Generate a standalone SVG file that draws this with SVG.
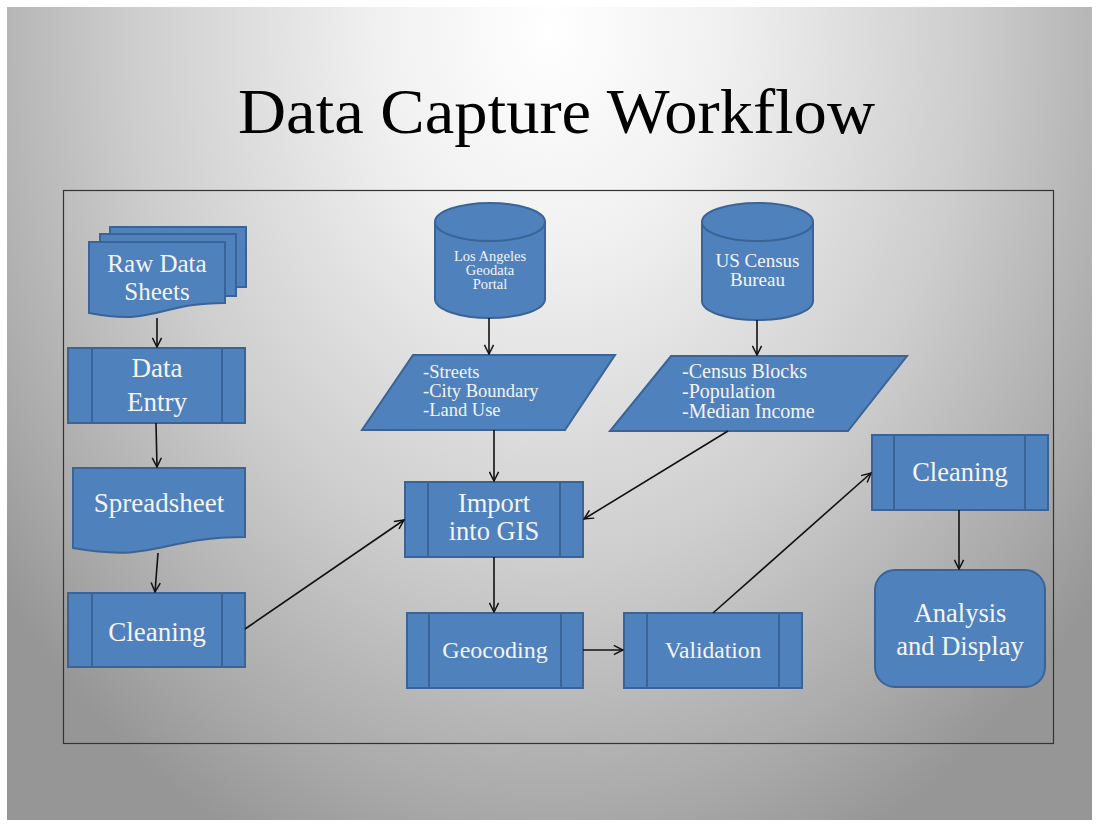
<svg xmlns="http://www.w3.org/2000/svg" width="1099" height="827" viewBox="0 0 1099 827">
  <defs>
    <radialGradient id="bg" gradientUnits="userSpaceOnUse" cx="550" cy="30" r="900" gradientTransform="translate(550 30) scale(0.78 1) translate(-550 -30)">
      <stop offset="0" stop-color="#ffffff"/>
      <stop offset="0.25" stop-color="#f0f0f0"/>
      <stop offset="0.6" stop-color="#cdcdcd"/>
      <stop offset="0.87" stop-color="#a9a9a9"/>
      <stop offset="1" stop-color="#969696"/>
    </radialGradient>
    <marker id="arr" viewBox="0 0 12 12" refX="11" refY="6" markerWidth="11" markerHeight="11" markerUnits="userSpaceOnUse" orient="auto">
      <path d="M1,1 L11,6 L1,11" fill="none" stroke="#111" stroke-width="1.6"/>
    </marker>
  </defs>
  <style>
    .shape { fill: #4F81BD; stroke: #3A6496; stroke-width: 2; }
    .div { stroke: #3A6496; stroke-width: 2; fill: none; }
    .lbl { font-family: "Liberation Serif", "Times New Roman", serif; fill: #F4F4F4; text-anchor: middle; }
    .lst { font-family: "Liberation Serif", "Times New Roman", serif; fill: #F4F4F4; text-anchor: start; }
    .conn line { stroke: #111; stroke-width: 1.6; marker-end: url(#arr); }
  </style>

  <rect x="0" y="0" width="1099" height="827" fill="#ffffff"/>
  <rect x="7" y="7" width="1085" height="813" fill="url(#bg)"/>

  <text x="238" y="133" font-family="'Liberation Serif', 'Times New Roman', serif" font-size="63" fill="#000" textLength="637" lengthAdjust="spacingAndGlyphs">Data Capture Workflow</text>

  <rect id="frame" x="63.5" y="190.5" width="990" height="553" fill="none" stroke="#333" stroke-width="1.2"/>

  <g id="raw-data-sheets">
    <rect class="shape" x="110" y="227" width="136" height="60"/>
    <rect class="shape" x="100" y="234" width="136" height="62"/>
    <path class="shape" d="M89,242 L225,242 L225,303 C157,303 157,326 89,313 Z"/>
    <text class="lbl" font-size="25" x="157" y="272">Raw Data</text>
    <text class="lbl" font-size="25" x="157" y="300">Sheets</text>
  </g>

  <g id="data-entry">
    <rect class="shape" x="68" y="348" width="177" height="75"/>
    <line class="div" x1="92" y1="348" x2="92" y2="423"/>
    <line class="div" x1="222" y1="348" x2="222" y2="423"/>
    <text class="lbl" font-size="27" x="157" y="377">Data</text>
    <text class="lbl" font-size="27" x="157" y="411">Entry</text>
  </g>

  <g id="spreadsheet">
    <path class="shape" d="M73,468 L245,468 L245,537 C159,537 159,563 73,548 Z"/>
    <text class="lbl" font-size="27" x="159" y="512">Spreadsheet</text>
  </g>

  <g id="cleaning-1">
    <rect class="shape" x="68" y="593" width="177" height="74"/>
    <line class="div" x1="92" y1="593" x2="92" y2="667"/>
    <line class="div" x1="222" y1="593" x2="222" y2="667"/>
    <text class="lbl" font-size="27" x="157" y="641">Cleaning</text>
  </g>

  <g id="la-geodata-portal">
    <path class="shape" d="M435,222 A55,19 0 0 1 545,222 L545,299 A55,19 0 0 1 435,299 Z"/>
    <path class="div" d="M435,222 A55,19 0 0 0 545,222"/>
    <text class="lbl" font-size="14.5" x="490" y="261">Los Angeles</text>
    <text class="lbl" font-size="14.5" x="490" y="275">Geodata</text>
    <text class="lbl" font-size="14.5" x="490" y="289">Portal</text>
  </g>

  <g id="us-census-bureau">
    <path class="shape" d="M702,222 A55.5,19 0 0 1 813,222 L813,301 A55.5,19 0 0 1 702,301 Z"/>
    <path class="div" d="M702,222 A55.5,19 0 0 0 813,222"/>
    <text class="lbl" font-size="19" x="757.5" y="267">US Census</text>
    <text class="lbl" font-size="19" x="757.5" y="286">Bureau</text>
  </g>

  <g id="la-layers">
    <path class="shape" d="M413,355 L615,355 L565,430 L362,430 Z"/>
    <text class="lst" font-size="18.5" x="423" y="378">-Streets</text>
    <text class="lst" font-size="18.5" x="423" y="397">-City Boundary</text>
    <text class="lst" font-size="18.5" x="423" y="416">-Land Use</text>
  </g>

  <g id="census-layers">
    <path class="shape" d="M671,356 L907,356 L848,431 L610,431 Z"/>
    <text class="lst" font-size="20" x="682" y="378">-Census Blocks</text>
    <text class="lst" font-size="20" x="682" y="398">-Population</text>
    <text class="lst" font-size="20" x="682" y="418">-Median  Income</text>
  </g>

  <g id="import-into-gis">
    <rect class="shape" x="405" y="482" width="178" height="75"/>
    <line class="div" x1="428" y1="482" x2="428" y2="557"/>
    <line class="div" x1="560" y1="482" x2="560" y2="557"/>
    <text class="lbl" font-size="26.5" x="494" y="512">Import</text>
    <text class="lbl" font-size="26.5" x="494" y="540">into GIS</text>
  </g>

  <g id="geocoding">
    <rect class="shape" x="407" y="613" width="176" height="75"/>
    <line class="div" x1="429" y1="613" x2="429" y2="688"/>
    <line class="div" x1="561" y1="613" x2="561" y2="688"/>
    <text class="lbl" font-size="24" x="495" y="658">Geocoding</text>
  </g>

  <g id="validation">
    <rect class="shape" x="624" y="613" width="178" height="75"/>
    <line class="div" x1="647" y1="613" x2="647" y2="688"/>
    <line class="div" x1="779" y1="613" x2="779" y2="688"/>
    <text class="lbl" font-size="23.5" x="713" y="658">Validation</text>
  </g>

  <g id="cleaning-2">
    <rect class="shape" x="872" y="435" width="176" height="75"/>
    <line class="div" x1="894" y1="435" x2="894" y2="510"/>
    <line class="div" x1="1025" y1="435" x2="1025" y2="510"/>
    <text class="lbl" font-size="26.5" x="960" y="481">Cleaning</text>
  </g>

  <g id="analysis-and-display">
    <rect class="shape" x="875" y="570" width="170" height="117" rx="20" ry="20"/>
    <text class="lbl" font-size="26.5" x="960" y="622">Analysis</text>
    <text class="lbl" font-size="26.5" x="960" y="655">and Display</text>
  </g>

  <g id="connectors" class="conn">
    <line x1="157" y1="318" x2="157" y2="347"/>
    <line x1="156" y1="423" x2="157" y2="467"/>
    <line x1="158" y1="553" x2="155" y2="592"/>
    <line x1="245" y1="629" x2="404" y2="520"/>
    <line x1="489" y1="318" x2="489" y2="354"/>
    <line x1="757" y1="320" x2="757" y2="355"/>
    <line x1="494" y1="430" x2="494" y2="481"/>
    <line x1="728" y1="431" x2="584" y2="519"/>
    <line x1="494" y1="557" x2="494" y2="612"/>
    <line x1="583" y1="650" x2="623" y2="650"/>
    <line x1="713" y1="613" x2="871" y2="473"/>
    <line x1="959" y1="510" x2="959" y2="569"/>
  </g>
</svg>
